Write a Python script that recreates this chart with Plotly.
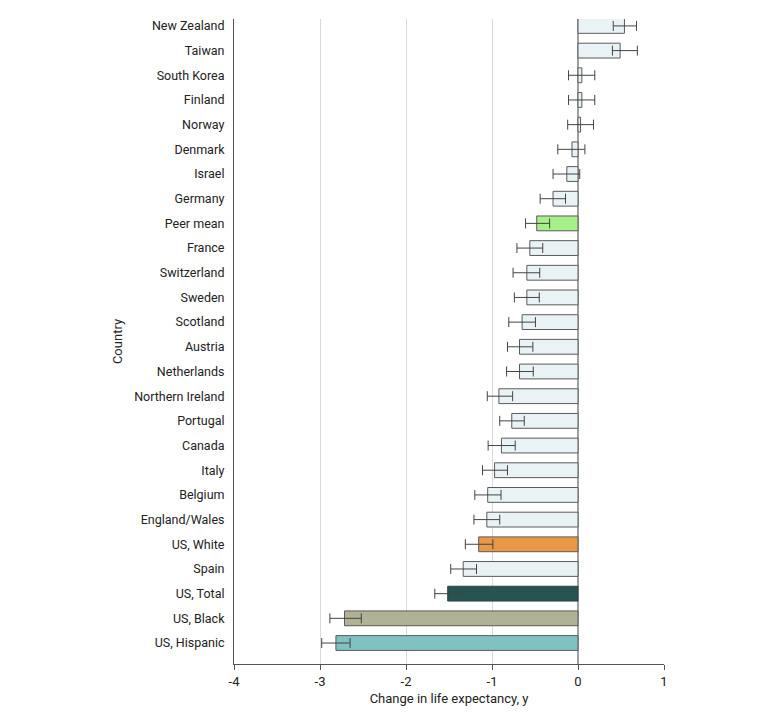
import plotly.graph_objects as go

# Data listed top to bottom as shown in the chart
countries = ["New Zealand", "Taiwan", "South Korea", "Finland", "Norway", "Denmark",
             "Israel", "Germany", "Peer mean", "France", "Switzerland", "Sweden",
             "Scotland", "Austria", "Netherlands", "Northern Ireland", "Portugal",
             "Canada", "Italy", "Belgium", "England/Wales", "US, White", "Spain",
             "US, Total", "US, Black", "US, Hispanic"]
change = [0.54, 0.49, 0.045, 0.045, 0.03, -0.07, -0.13, -0.29, -0.48, -0.56, -0.595,
          -0.595, -0.65, -0.68, -0.68, -0.92, -0.77, -0.89, -0.97, -1.05, -1.06,
          -1.155, -1.335, -1.515, -2.715, -2.815]
ci_low = [0.41, 0.40, -0.11, -0.11, -0.12, -0.235, -0.29, -0.44, -0.61, -0.71, -0.755,
          -0.74, -0.805, -0.82, -0.83, -1.055, -0.91, -1.045, -1.11, -1.20, -1.21,
          -1.31, -1.48, -1.665, -2.885, -2.98]
ci_high = [0.68, 0.69, 0.195, 0.195, 0.18, 0.08, 0.02, -0.145, -0.33, -0.41, -0.445,
           -0.45, -0.495, -0.525, -0.52, -0.76, -0.625, -0.73, -0.82, -0.895, -0.91,
           -0.99, -1.18, -1.34, -2.52, -2.65]
x_tick_values = [-4, -3, -2, -1, 0, 1]
x_tick_labels = ["-4", "-3", "-2", "-1", "0", "1"]

highlight_colors = {"Peer mean": "#a6f089", "US, White": "#e89846",
                    "US, Total": "#275353", "US, Black": "#b1b196",
                    "US, Hispanic": "#80c2c2"}
default_color = "#e9f3f5"

# Reverse so the first listed is at top
cats = countries[::-1]
vals = change[::-1]
lows = ci_low[::-1]
highs = ci_high[::-1]
plus = [h - v for h, v in zip(highs, vals)]
minus = [v - l for v, l in zip(vals, lows)]
colors = [highlight_colors.get(c, default_color) for c in cats]
line_colors = ["#244848" if c == "US, Total" else "#5a5a5a" for c in cats]

fig = go.Figure(go.Bar(
    x=vals, y=cats, orientation="h",
    marker=dict(color=colors, line=dict(color=line_colors, width=1)),
    width=0.6,
    error_x=dict(type="data", symmetric=False, array=plus, arrayminus=minus,
                 color="#444444", thickness=1, width=5),
))

font_family = "Roboto, Liberation Sans, sans-serif"
fig.update_layout(
    width=780, height=719,
    margin=dict(l=226, r=124, t=11, b=63),
    plot_bgcolor="white", paper_bgcolor="white",
    font=dict(family=font_family, size=12, color="#222222"),
    showlegend=False,
    xaxis=dict(range=[-4, 1], tickvals=x_tick_values, ticktext=x_tick_labels,
               showgrid=True, gridcolor="#dadada", gridwidth=1,
               zeroline=True, zerolinecolor="#a0a0a0", zerolinewidth=2,
               showline=True, linecolor="#555555", linewidth=1,
               ticks="outside", ticklen=5, tickcolor="#555555",
               title=dict(text="Change in life expectancy, y", standoff=6,
                          font=dict(size=13)),
               tickfont=dict(size=13)),
    yaxis=dict(categoryorder="array", categoryarray=cats,
               range=[-0.85, 25.28],
               showgrid=False, zeroline=False,
               showline=True, linecolor="#555555", linewidth=1,
               ticks="", ticklabelstandoff=6,
               title=dict(text="Country", standoff=8, font=dict(size=13)),
               tickfont=dict(size=12.5)),
)

fig.write_html("out.html")
